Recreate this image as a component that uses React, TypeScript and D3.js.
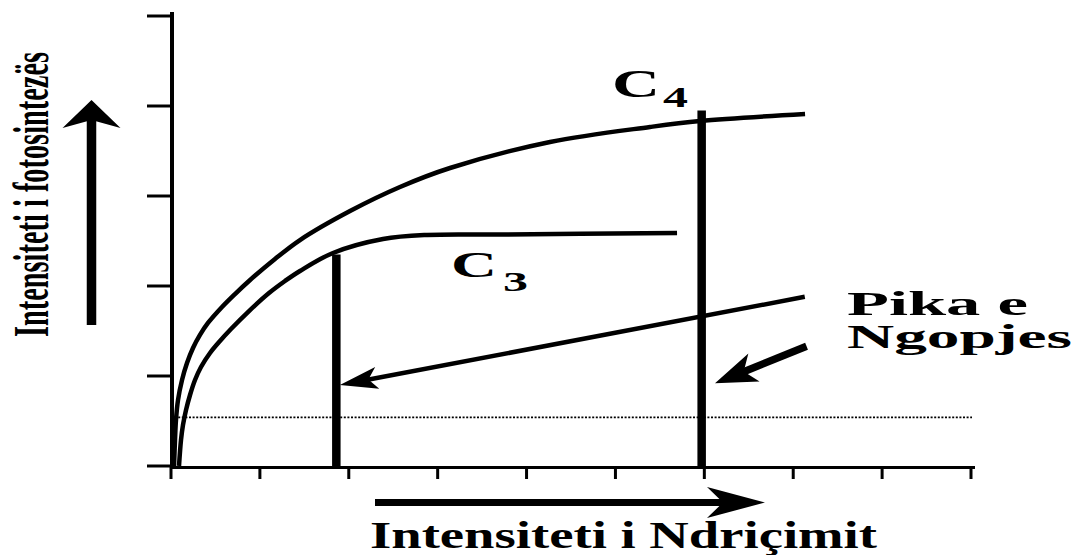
import React from "react";
import * as d3 from "d3";

// ---- data (x: light intensity units, y: photosynthesis units) ----
const xTicks = [0, 1, 2, 3, 4, 5, 6, 7, 8, 9];
const yTicks = [0, 1, 2, 3, 4, 5];

const c4X = [0.034, 0.045, 0.056, 0.079, 0.124, 0.18, 0.2475, 0.326, 0.416, 0.574, 0.72, 0.8775, 1.17, 1.451, 2.014, 2.576, 3.139, 4.264, 5.389, 5.951, 7.133];
const c4Y = [0, 0.289, 0.511, 0.733, 0.956, 1.144, 1.311, 1.456, 1.589, 1.767, 1.911, 2.056, 2.3, 2.511, 2.833, 3.1, 3.311, 3.6, 3.767, 3.833, 3.911];

const c3X = [0.09, 0.1125, 0.135, 0.169, 0.214, 0.27, 0.3375, 0.439, 0.551, 0.675, 0.8775, 1.1025, 1.2825, 1.451, 1.8225, 2.385, 2.88, 3.701, 5.693];
const c3Y = [0, 0.289, 0.456, 0.622, 0.789, 0.956, 1.1, 1.256, 1.389, 1.522, 1.722, 1.922, 2.056, 2.167, 2.367, 2.522, 2.567, 2.572, 2.589];

// saturation points: [x, top y]
const saturationC3 = [1.86, 2.35];
const saturationC4 = [5.97, 3.95];
const compensationY = 0.54;

// pointer arrows: [fromX, fromY, toX, toY]
const pointerLong = [7.13, 1.88, 1.9, 0.9];
const pointerShort = [7.15, 1.33, 6.12, 0.92];

const labelC3 = "C";
const subC3 = "3";
const labelC4 = "C";
const subC4 = "4";
const pointLabel1 = "Pika e";
const pointLabel2 = "Ngopjes";
const xTitle = "Intensiteti i Ndriçimit";
const yTitle = "Intensiteti i fotosintezës";

const W = 1080;
const H = 555;
const FONT = "'Liberation Serif', 'Times New Roman', serif";

function arrowHead(tx: number, ty: number, fx: number, fy: number, len: number, half: number, notch: number) {
  const dx = fx - tx;
  const dy = fy - ty;
  const d = Math.hypot(dx, dy);
  const ux = dx / d;
  const uy = dy / d;
  const nx = -uy;
  const ny = ux;
  const bx = tx + ux * len;
  const by = ty + uy * len;
  const p = d3.path();
  p.moveTo(tx, ty);
  p.lineTo(bx + nx * half, by + ny * half);
  p.lineTo(tx + ux * notch, ty + uy * notch);
  p.lineTo(bx - nx * half, by - ny * half);
  p.closePath();
  return p.toString();
}

export default function App() {
  const x = d3.scaleLinear().domain([0, 9]).range([171, 971]);
  const y = d3.scaleLinear().domain([0, 5]).range([466, 16]);

  const line = d3
    .line<[number, number]>()
    .x((d) => x(d[0]))
    .y((d) => y(d[1]))
    .curve(d3.curveCatmullRom.alpha(0.5));

  const c4 = c4X.map((v, i) => [v, c4Y[i]] as [number, number]);
  const c3 = c3X.map((v, i) => [v, c3Y[i]] as [number, number]);

  const lp = pointerLong.map((v, i) => (i % 2 === 0 ? x(v) : y(v)));
  const sp = pointerShort.map((v, i) => (i % 2 === 0 ? x(v) : y(v)));

  return (
    <svg width={W} height={H} style={{ position: "fixed", left: 0, top: 0, background: "#fff" }}>
      <rect width={W} height={H} fill="#fff" />
      {/* compensation dotted line */}
      <line
        x1={x(0)}
        x2={x(9) + 1}
        y1={y(compensationY)}
        y2={y(compensationY)}
        stroke="#000"
        strokeWidth={1.6}
        strokeDasharray="2,1.6"
      />
      {/* y axis */}
      <line x1={172} x2={172} y1={12} y2={468} stroke="#000" strokeWidth={4} />
      {yTicks.map((t) => (
        <line key={"yt" + t} x1={147} x2={172} y1={y(t)} y2={y(t)} stroke="#000" strokeWidth={3} />
      ))}
      {/* x axis */}
      <line x1={170} x2={975} y1={467.5} y2={467.5} stroke="#000" strokeWidth={3} />
      {xTicks.map((t) => (
        <line key={"xt" + t} x1={x(t)} x2={x(t)} y1={466} y2={479} stroke="#000" strokeWidth={3} />
      ))}
      {/* curves */}
      <path d={line(c4) || ""} fill="none" stroke="#000" strokeWidth={4.5} />
      <path d={line(c3) || ""} fill="none" stroke="#000" strokeWidth={4.5} />
      {/* saturation bars */}
      <line
        x1={x(saturationC3[0])}
        x2={x(saturationC3[0])}
        y1={y(0)}
        y2={y(saturationC3[1])}
        stroke="#000"
        strokeWidth={8.5}
      />
      <line
        x1={x(saturationC4[0])}
        x2={x(saturationC4[0])}
        y1={y(0)}
        y2={y(saturationC4[1])}
        stroke="#000"
        strokeWidth={8.5}
      />
      {/* pointer arrows */}
      <line x1={lp[0]} y1={lp[1]} x2={lp[2] + 25} y2={lp[3] - 4.7} stroke="#000" strokeWidth={4.5} />
      <path d={arrowHead(lp[2], lp[3], lp[0], lp[1], 38, 11, 29)} fill="#000" />
      <line x1={sp[0]} y1={sp[1]} x2={sp[2] + 25} y2={sp[3] - 10} stroke="#000" strokeWidth={7.5} />
      <path d={arrowHead(sp[2], sp[3], sp[0], sp[1], 42, 15, 31)} fill="#000" />
      {/* axis direction arrows */}
      <line x1={91.5} x2={91.5} y1={325} y2={118} stroke="#000" strokeWidth={9.5} />
      <path d={arrowHead(91.5, 100, 91.5, 325, 28, 29, 20)} fill="#000" />
      <line x1={375} x2={725} y1={502.5} y2={502.5} stroke="#000" strokeWidth={7} />
      <path d={arrowHead(765, 502.5, 375, 502.5, 58, 15.5, 42)} fill="#000" />
      {/* labels */}
      <g fontFamily={FONT} fontWeight="bold" fill="#000">
        <text x={612} y={97} fontSize={41} textLength={48} lengthAdjust="spacingAndGlyphs">
          {labelC4}
        </text>
        <text x={663} y={107} fontSize={30} textLength={25} lengthAdjust="spacingAndGlyphs">
          {subC4}
        </text>
        <text x={451} y={277} fontSize={36} textLength={46} lengthAdjust="spacingAndGlyphs">
          {labelC3}
        </text>
        <text x={503} y={291} fontSize={27} textLength={25} lengthAdjust="spacingAndGlyphs">
          {subC3}
        </text>
        <text x={847} y={315} fontSize={34} textLength={181} lengthAdjust="spacingAndGlyphs">
          {pointLabel1}
        </text>
        <text x={847} y={348} fontSize={34} textLength={225} lengthAdjust="spacingAndGlyphs">
          {pointLabel2}
        </text>
        <text x={370} y={548} fontSize={38} textLength={507} lengthAdjust="spacingAndGlyphs">
          {xTitle}
        </text>
        <text
          transform="translate(48,337) rotate(-90)"
          x={0}
          y={0}
          fontSize={50}
          textLength={285}
          lengthAdjust="spacingAndGlyphs"
        >
          {yTitle}
        </text>
      </g>
    </svg>
  );
}
